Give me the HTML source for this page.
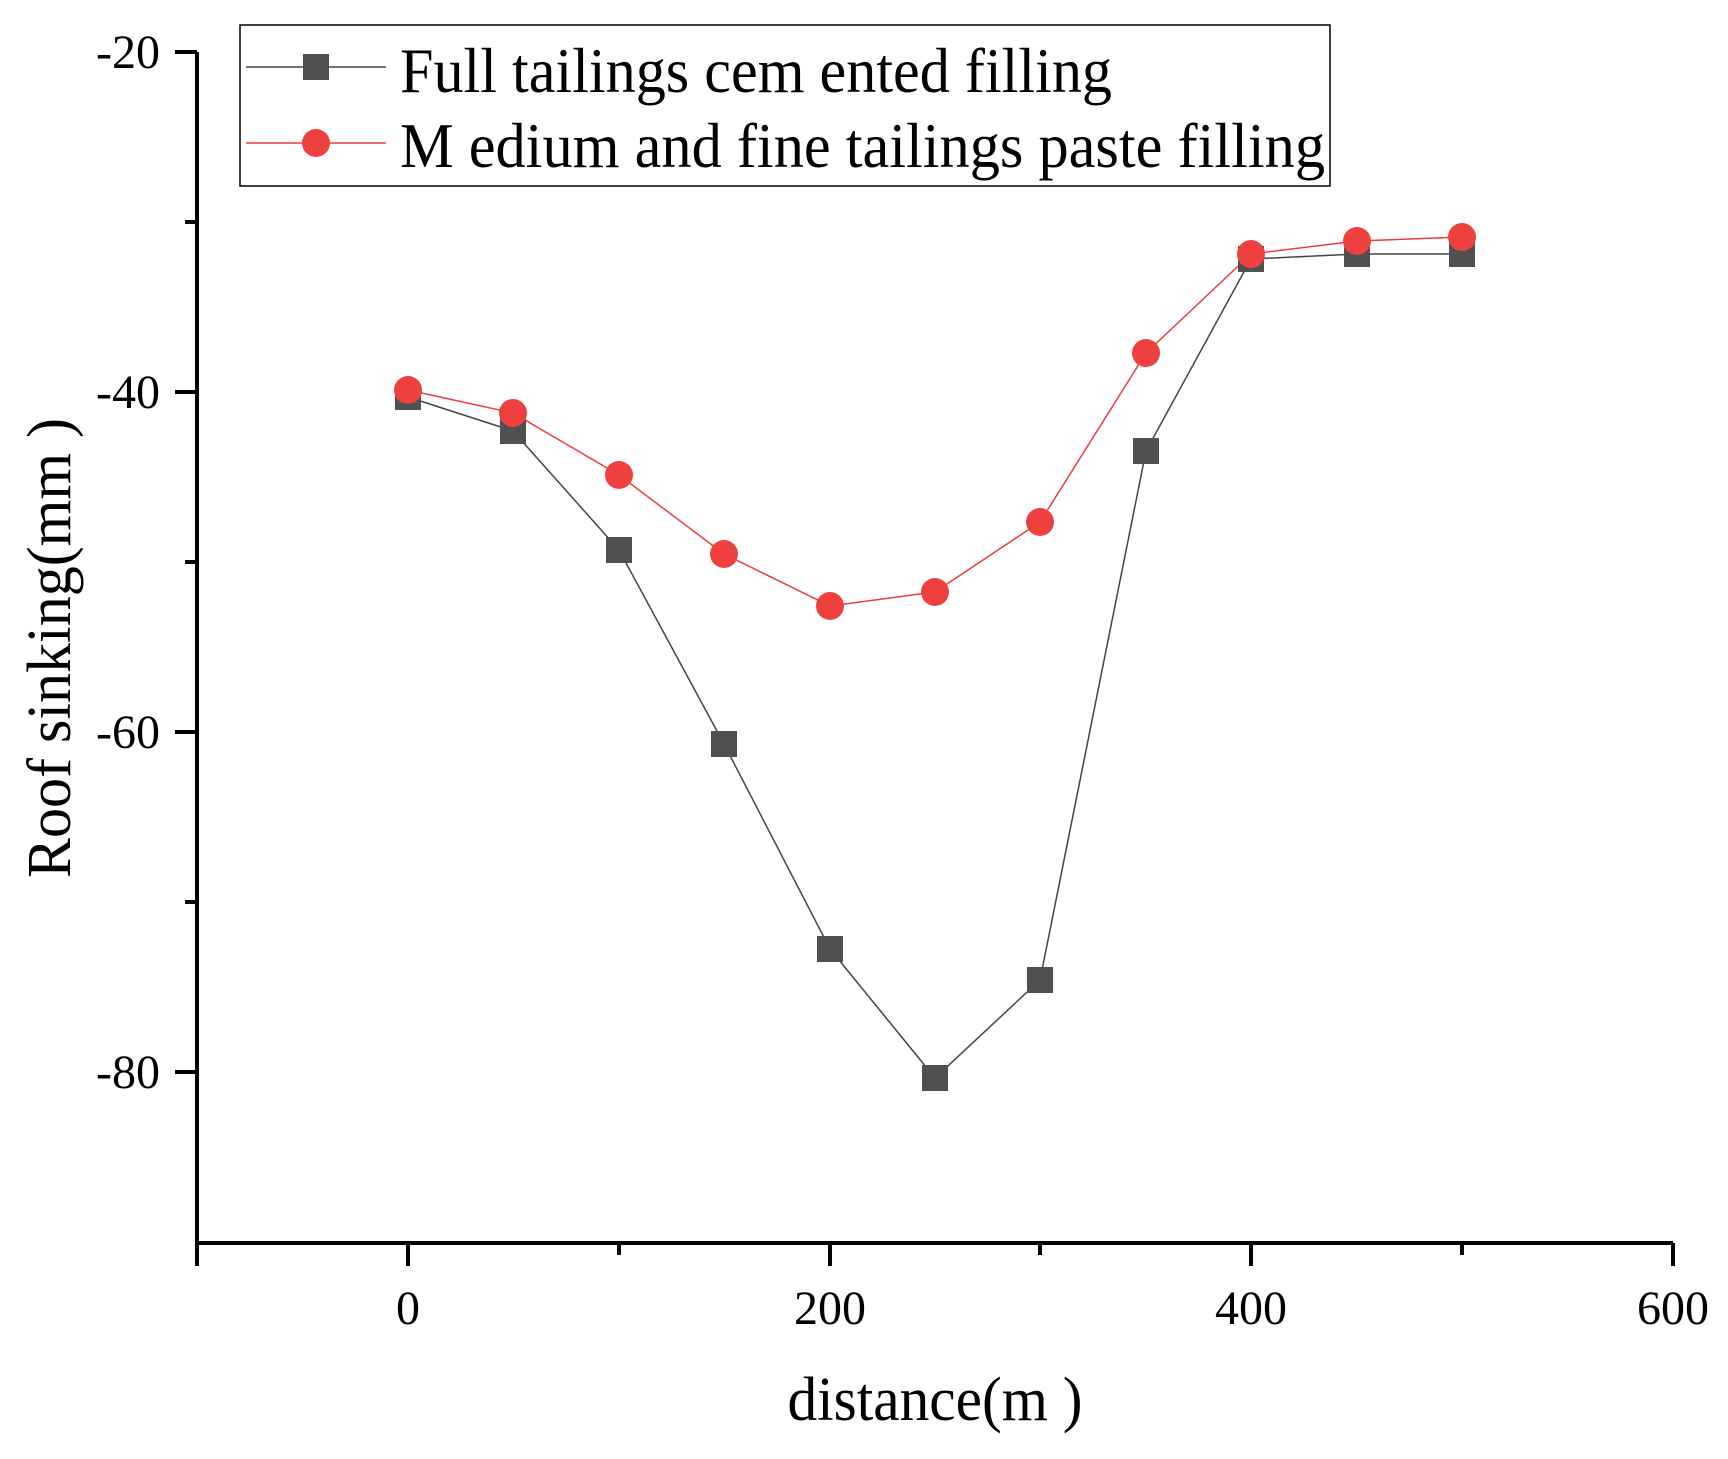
<!DOCTYPE html>
<html><head><style>html,body{margin:0;padding:0;background:#fff}</style></head>
<body>
<svg width="1728" height="1454" viewBox="0 0 1728 1454" xmlns="http://www.w3.org/2000/svg" font-family="Liberation Serif, serif">
<rect width="1728" height="1454" fill="#fff"/>
<g stroke="#000" stroke-width="4" fill="none">
<path d="M197,52 V1243 H1673"/>
<path d="M175,52 H197 M175,392 H197 M175,732 H197 M175,1072 H197"/>
<path d="M185,222 H197 M185,562 H197 M185,902 H197"/>
<path d="M197,1243 V1266 M408,1243 V1266 M830,1243 V1266 M1251,1243 V1266 M1673,1243 V1266"/>
<path d="M619,1243 V1255 M1040,1243 V1255 M1462,1243 V1255"/>
</g>
<g font-size="48" text-anchor="end" fill="#000">
<text x="160" y="68">-20</text><text x="160" y="408">-40</text><text x="160" y="748">-60</text><text x="160" y="1088">-80</text>
</g>
<g font-size="48" text-anchor="middle" fill="#000">
<text x="408" y="1324">0</text><text x="830" y="1324">200</text><text x="1251" y="1324">400</text><text x="1673" y="1324">600</text>
</g>
<text x="935" y="1420" font-size="62" text-anchor="middle" textLength="295" lengthAdjust="spacingAndGlyphs">distance(m )</text>
<text transform="translate(70,648) rotate(-90)" font-size="62" text-anchor="middle" textLength="460" lengthAdjust="spacingAndGlyphs">Roof sinking(mm )</text>
<polyline fill="none" stroke="#444" stroke-width="1.5" points="408,397 513,431 619,550 724,744 830,949 935,1078 1040,980 1146,451 1251,259 1357,254 1462,254"/>
<polyline fill="none" stroke="#f03c3c" stroke-width="1.5" points="408,390 513,413 619,475 724,554 830,606 935,592 1040,522 1146,353 1251,254 1357,241 1462,237"/>
<g fill="#505050">
<rect x="395" y="384" width="26" height="26"/><rect x="500" y="418" width="26" height="26"/><rect x="606" y="537" width="26" height="26"/><rect x="711" y="731" width="26" height="26"/><rect x="817" y="936" width="26" height="26"/><rect x="922" y="1065" width="26" height="26"/><rect x="1027" y="967" width="26" height="26"/><rect x="1133" y="438" width="26" height="26"/><rect x="1238" y="246" width="26" height="26"/><rect x="1344" y="241" width="26" height="26"/><rect x="1449" y="241" width="26" height="26"/>
</g>
<g fill="#ef4040">
<circle cx="408" cy="390" r="14"/><circle cx="513" cy="413" r="14"/><circle cx="619" cy="475" r="14"/><circle cx="724" cy="554" r="14"/><circle cx="830" cy="606" r="14"/><circle cx="935" cy="592" r="14"/><circle cx="1040" cy="522" r="14"/><circle cx="1146" cy="353" r="14"/><circle cx="1251" cy="254" r="14"/><circle cx="1357" cy="241" r="14"/><circle cx="1462" cy="237" r="14"/>
</g>
<rect x="240" y="25" width="1090" height="161" fill="#fff" stroke="#000" stroke-width="1.5"/>
<line x1="246" y1="67" x2="386" y2="67" stroke="#444" stroke-width="1.5"/>
<rect x="303" y="54" width="26" height="26" fill="#505050"/>
<line x1="246" y1="143" x2="386" y2="143" stroke="#f03c3c" stroke-width="1.5"/>
<circle cx="316" cy="143" r="14" fill="#ef4040"/>
<text x="400" y="92" font-size="64" textLength="712" lengthAdjust="spacingAndGlyphs">Full tailings cem ented filling</text>
<text x="400" y="167" font-size="64" textLength="925" lengthAdjust="spacingAndGlyphs">M edium  and fine tailings paste filling</text>
</svg>
</body></html>
